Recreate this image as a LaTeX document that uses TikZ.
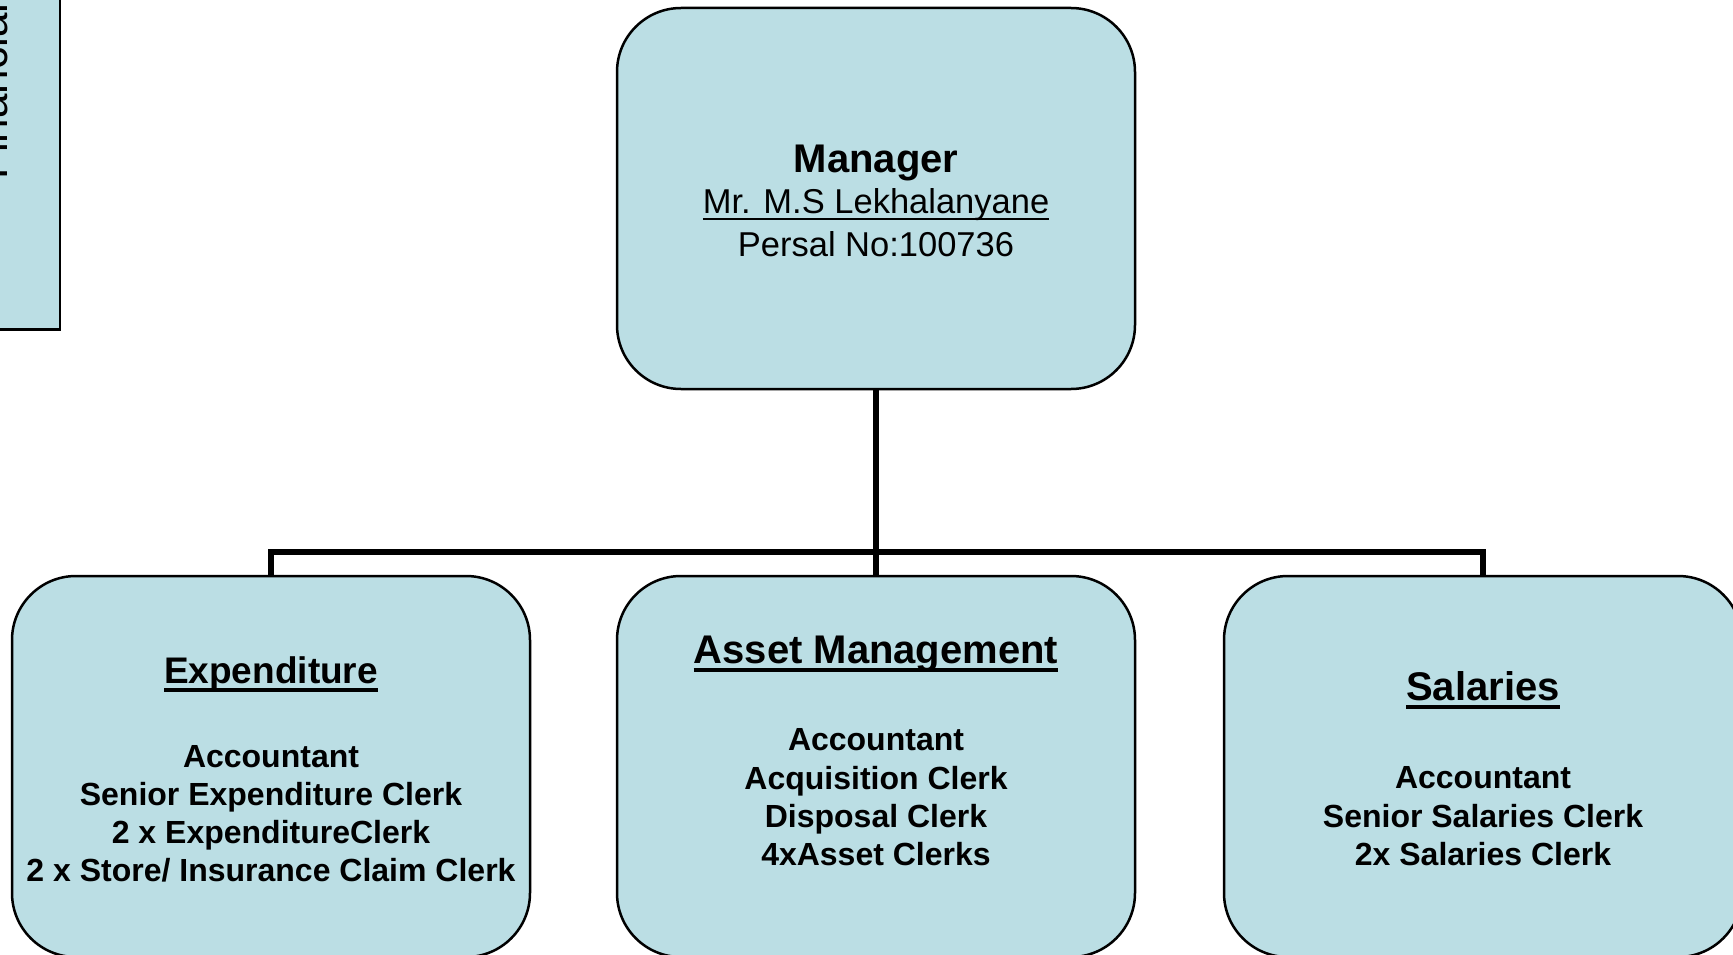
\documentclass[tikz,border=0pt]{standalone}
\usepackage{fontspec}
\setmainfont{Liberation Sans}
\definecolor{boxfill}{RGB}{187,222,228}
\newcommand\ulbold[1]{\leavevmode\setbox0\hbox{#1}\rlap{\vrule width\wd0 height -5pt depth 8.5pt}\box0}
\newcommand\ulreg[1]{\leavevmode\setbox0\hbox{#1}\rlap{\vrule width\wd0 height -4pt depth 6.5pt}\box0}
\begin{document}
\begin{tikzpicture}[x=1pt,y=-1pt,
  orgbox/.style={rectangle, draw=black, line width=2.5pt, fill=boxfill, rounded corners=64pt,
    minimum width=518pt, minimum height=381pt, inner sep=0pt},
  sidebox/.style={rectangle, draw=black, line width=2.5pt, fill=boxfill,
    minimum width=100pt, minimum height=348pt, inner sep=0pt, anchor=north east},
  conn/.style={line width=6pt, line join=miter},
  title/.style={font=\fontsize{40}{46}\selectfont\bfseries, anchor=base, inner sep=0pt},
  body/.style={font=\fontsize{32}{38}\selectfont\bfseries, anchor=base, inner sep=0pt},
  reg/.style={font=\fontsize{34.5}{42}\selectfont, anchor=base, inner sep=0pt},
]
\useasboundingbox (0,0) rectangle (1733,955);
\clip (0,0) rectangle (1733,955);

% side box (cut off at top left)
\node[sidebox] (fin) at (61,-20) {};
\node[rotate=90, anchor=base west, font=\fontsize{44}{50}\selectfont, inner sep=0pt] (finT) at (7,180) {Financial};

% boxes
\node[orgbox] (mgr) at (876,198.5) {};
\node[orgbox] (exp) at (271,766.5) {};
\node[orgbox] (ast) at (876,766.5) {};
\node[orgbox] (sal) at (1483,766.5) {};
\coordinate (bar) at (876,552);

% connectors
\draw[conn] (mgr.south) -- (bar);
\draw[conn] (exp.north) |- (sal.north |- bar) -- (sal.north);
\draw[conn] (bar) -- (ast.north);

% manager text
\node[title] (mgrT) at (876,172) {Manager};
\node[reg] (mgrN) at (876,214) {\ulreg{Mr. M.S Lekhalanyane}};
\node[reg] (mgrP) at (876,256) {Persal No:100736};

% expenditure
\node[title, font=\fontsize{37}{44}\selectfont\bfseries] (expT) at (271,683) {\ulbold{Expenditure}};
\node[body] (exp1) at (271,767) {Accountant};
\node[body] (exp2) at (271,805) {Senior Expenditure Clerk};
\node[body] (exp3) at (271,843) {2 x ExpenditureClerk};
\node[body] (exp4) at (271,881) {2 x Store/ Insurance Claim Clerk};

% asset management
\node[title] (astT) at (876,663) {\ulbold{Asset Management}};
\node[body] (ast1) at (876,750) {Accountant};
\node[body] (ast2) at (876,789) {Acquisition Clerk};
\node[body] (ast3) at (876,827) {Disposal Clerk};
\node[body] (ast4) at (876,865) {4xAsset Clerks};

% salaries
\node[title] (salT) at (1483,700) {\ulbold{Salaries}};
\node[body] (sal1) at (1483,788) {Accountant};
\node[body] (sal2) at (1483,827) {Senior Salaries Clerk};
\node[body] (sal3) at (1483,865) {2x Salaries Clerk};
\end{tikzpicture}
\end{document}
